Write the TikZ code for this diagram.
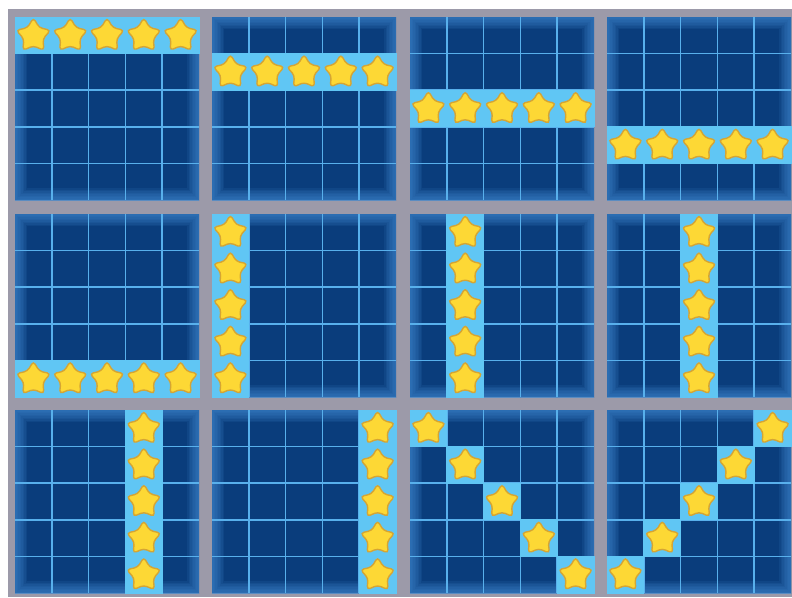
\documentclass[tikz,border=0pt]{standalone}
\usetikzlibrary{shapes.geometric}
\definecolor{bgray}{HTML}{9C9AA9}
\definecolor{dblue}{HTML}{0A3D7C}
\definecolor{eblue}{HTML}{3F88D0}
\definecolor{gline}{HTML}{58B0EC}
\definecolor{hcell}{HTML}{60C6F4}
\definecolor{syel}{HTML}{FDD835}
\definecolor{sedge}{HTML}{D5A534}
\tikzset{
  starnode/.style={star, star points=5, star point ratio=1.8, minimum size=36pt,
    inner sep=0pt, fill=syel, draw=sedge, line width=1.4pt, rounded corners=3.5pt},
  panelfill/.style={fill=dblue},
  glow/.style={draw=eblue, opacity=0.13},
  gridline/.style={draw=gline, line width=1.6pt},
  hl/.style={fill=hcell},
}
\newcommand{\mypanel}[4]{%
  \begin{scope}[shift={(#2,#3)}]
    \fill[panelfill] (0,0) rectangle (184,183);
    \begin{scope}
      \clip (0,0) rectangle (184,183);
      \foreach \k in {1,...,8} {\draw[glow, line width=\k*3pt] (0,0) rectangle (184,183);}
    \end{scope}
    \foreach \i in {1,...,4} {
      \draw[gridline] (\i*36.8,0) -- (\i*36.8,183);
      \draw[gridline] (0,\i*36.6) -- (184,\i*36.6);
    }
    \foreach \c/\r in {#4} {\fill[hl] (\c*36.8-0.5,\r*36.6-0.5) rectangle ++(37.8,37.6);}
    \foreach \c/\r in {#4} {\node[starnode] (#1-\c-\r) at (\c*36.8+18.4,\r*36.6+18.8) {};}
  \end{scope}}
\begin{document}
\begin{tikzpicture}[x=1pt,y=-1pt]
\useasboundingbox (0,0) rectangle (792,597);
\fill[white] (0,0) rectangle (792,597);
\fill[bgray] (8,9) rectangle (792,597);
\mypanel{pa}{15}{17}{0/0,1/0,2/0,3/0,4/0}
\mypanel{pb}{212}{17}{0/1,1/1,2/1,3/1,4/1}
\mypanel{pc}{410}{17}{0/2,1/2,2/2,3/2,4/2}
\mypanel{pd}{607}{17}{0/3,1/3,2/3,3/3,4/3}
\mypanel{pe}{15}{214}{0/4,1/4,2/4,3/4,4/4}
\mypanel{pf}{212}{214}{0/0,0/1,0/2,0/3,0/4}
\mypanel{pg}{410}{214}{1/0,1/1,1/2,1/3,1/4}
\mypanel{ph}{607}{214}{2/0,2/1,2/2,2/3,2/4}
\mypanel{pi}{15}{410}{3/0,3/1,3/2,3/3,3/4}
\mypanel{pj}{212}{410}{4/0,4/1,4/2,4/3,4/4}
\mypanel{pk}{410}{410}{0/0,1/1,2/2,3/3,4/4}
\mypanel{pl}{607}{410}{4/0,3/1,2/2,1/3,0/4}
\end{tikzpicture}
\end{document}
